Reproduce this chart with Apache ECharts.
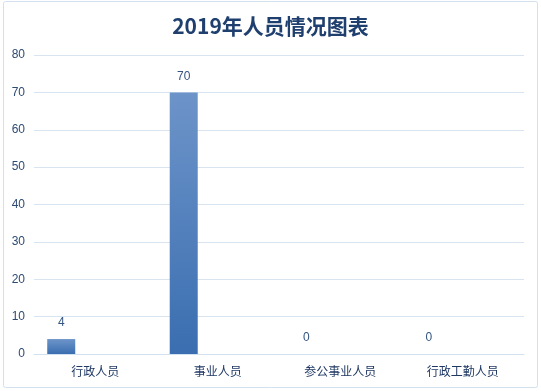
<!DOCTYPE html>
<html><head><meta charset="utf-8">
<script src="https://cdn.jsdelivr.net/npm/echarts@6/dist/echarts.min.js"></script>
<style>html,body{margin:0;padding:0;background:#fff}#c{width:541px;height:391px}</style>
</head><body><div id="c"></div>
<script>
const titleText = '2019年人员情况图表';
const categories = ['行政人员', '事业人员', '参公事业人员', '行政工勤人员'];
const values = [4, 70, 0, 0];
const emptySeries = ['-', '-', '-', '-'];
const yTicks = { min: 0, max: 80, interval: 10 };

const chart = echarts.init(document.getElementById('c'), null, { renderer: 'canvas' });
chart.setOption({
  backgroundColor: '#ffffff',
  animation: false,
  title: {
    text: titleText, left: 'center', top: 11,
    textStyle: { fontFamily: 'Noto Sans CJK SC', fontSize: 21, fontWeight: 'bold', color: '#1f3f6e' }
  },
  graphic: [{
    type: 'rect', shape: { x: 3.5, y: 1.5, width: 534, height: 386, r: 2 },
    style: { fill: 'none', stroke: '#d3e0ee', lineWidth: 1 }, silent: true, z: -1
  }],
  grid: { left: 34, right: 17, top: 55, bottom: 37, containLabel: false },
  xAxis: {
    type: 'category', data: categories,
    axisTick: { show: false },
    axisLine: { lineStyle: { color: '#d3e0ee', width: 1 } },
    axisLabel: { color: '#1f3864', fontSize: 12, margin: 11, fontFamily: 'Noto Sans CJK SC' }
  },
  yAxis: {
    type: 'value', min: yTicks.min, max: yTicks.max, interval: yTicks.interval,
    axisLine: { show: false }, axisTick: { show: false },
    splitLine: { lineStyle: { color: '#d9e4f1', width: 1 } },
    axisLabel: { color: '#2e4b74', fontSize: 12, margin: 9, fontFamily: 'Liberation Sans' }
  },
  series: [{
    type: 'bar', data: values, barWidth: 28, barGap: '143%',
    itemStyle: {
      color: new echarts.graphic.LinearGradient(0, 0, 0, 1, [
        { offset: 0, color: '#6d94c9' }, { offset: 1, color: '#3a6eb0' }
      ])
    },
    label: { show: true, position: 'top', distance: 10, color: '#34557f', fontSize: 12, fontFamily: 'Liberation Sans' }
  }, {
    type: 'bar', data: emptySeries, barWidth: 28
  }]
});
</script></body></html>
